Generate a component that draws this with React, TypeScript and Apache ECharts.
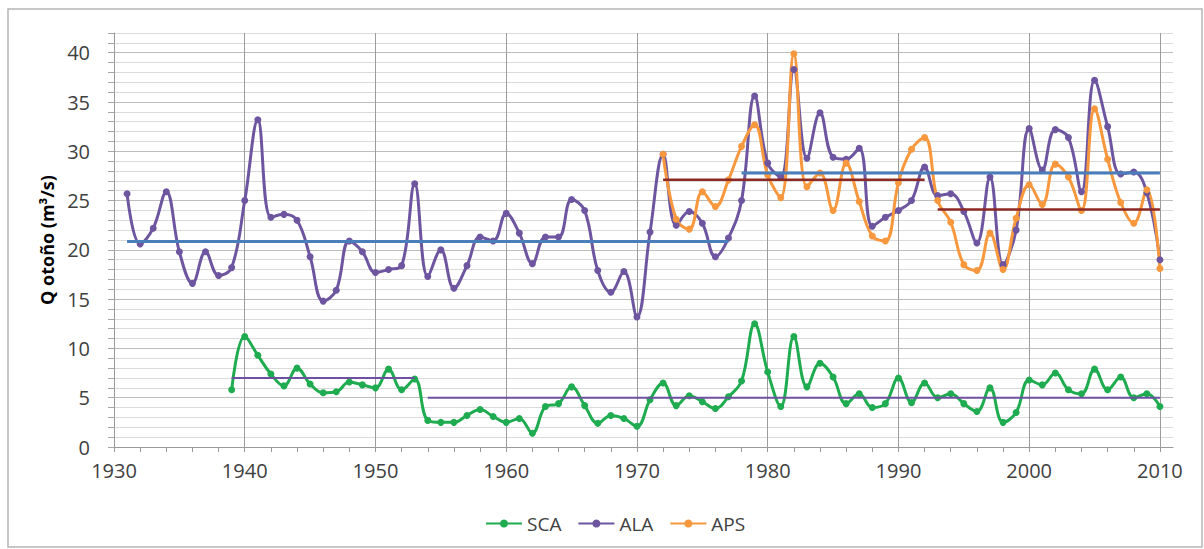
import React, { useEffect, useRef } from "react";
import * as echarts from "echarts";

// SCA: 1939–2010
const scaStart = 1939;
const scaValues = [
  5.8, 11.2, 9.3, 7.4, 6.2, 8.0, 6.4, 5.5, 5.6, 6.6, 6.3, 6.0, 7.9, 5.8, 6.9,
  2.7, 2.5, 2.5, 3.2, 3.8, 3.1, 2.5, 2.9, 1.4, 4.1, 4.4, 6.1, 4.2, 2.4, 3.2,
  2.9, 2.1, 4.8, 6.5, 4.2, 5.2, 4.6, 3.9, 5.1, 6.7, 12.5, 7.6, 4.1, 11.2, 6.1,
  8.5, 7.1, 4.4, 5.4, 4.0, 4.4, 7.0, 4.5, 6.5, 5.0, 5.4, 4.4, 3.6, 6.0, 2.5,
  3.5, 6.8, 6.3, 7.5, 5.8, 5.4, 7.9, 5.8, 7.1, 5.0, 5.4, 4.1,
];

// ALA: 1931–2010
const alaStart = 1931;
const alaValues = [
  25.7, 20.6, 22.2, 25.9, 19.8, 16.6, 19.8, 17.4, 18.2, 25.0, 33.2, 23.3, 23.6,
  23.0, 19.3, 14.8, 15.9, 20.9, 19.8, 17.7, 18.0, 18.4, 26.7, 17.3, 20.0, 16.1,
  18.4, 21.3, 20.9, 23.7, 21.7, 18.6, 21.3, 21.3, 25.1, 24.0, 17.9, 15.7, 17.8,
  13.2, 21.8, 29.7, 22.5, 23.9, 22.7, 19.3, 21.2, 25.0, 35.6, 28.8, 27.4, 38.3,
  29.3, 33.9, 29.4, 29.2, 30.3, 22.4, 23.3, 24.0, 25.0, 28.4, 25.5, 25.7, 23.9,
  20.7, 27.4, 18.5, 22.0, 32.3, 28.1, 32.2, 31.4, 25.9, 37.2, 32.5, 27.7, 27.9,
  25.8, 19.0,
];

// APS: 1972–2010
const apsStart = 1972;
const apsValues = [
  29.7, 23.1, 22.1, 25.9, 24.4, 27.1, 30.5, 32.7, 27.6, 25.3, 39.9, 26.4, 27.8,
  24.0, 28.8, 24.9, 21.4, 20.9, 26.8, 30.2, 31.4, 25.0, 22.8, 18.5, 17.9, 21.7,
  18.0, 23.2, 26.6, 24.6, 28.7, 27.4, 24.0, 34.3, 29.2, 24.8, 22.7, 26.1, 18.1,
];

// Period means: [startYear, endYear, value]
const alaMeans = [
  [1931, 1977, 20.85],
  [1978, 2010, 27.8],
];
const apsMeans = [
  [1972, 1992, 27.1],
  [1993, 2010, 24.1],
];
const scaMeans = [
  [1939, 1953, 7.0],
  [1954, 2010, 5.0],
];

const FONT = "'Open Sans', 'DejaVu Sans', sans-serif";
const C_SCA = "#1fab4f";
const C_ALA = "#6d559f";
const C_APS = "#f7983f";
const C_BLUE = "#4a7ebb";
const C_RED = "#8e2a25";
const C_SCAMEAN = "#6f4f9f";

const toPairs = (start: number, vals: number[]) => vals.map((v, i) => [start + i, v]);

export default function App() {
  const ref = useRef<HTMLDivElement>(null);
  useEffect(() => {
    if (!ref.current) return;
    const chart = echarts.init(ref.current, undefined, { renderer: "svg" });

    const dataSeries = (name: string, start: number, vals: number[], color: string) => ({
      name,
      type: "line",
      data: toPairs(start, vals),
      smooth: 0.4,
      symbol: "circle",
      symbolSize: 7,
      showSymbol: true,
      itemStyle: { color },
      lineStyle: { color, width: 3 },
      z: 3,
    });
    const meanSeries = (segs: number[][], color: string, width: number) =>
      segs.map((s) => ({
        name: "mean",
        type: "line",
        data: [
          [s[0], s[2]],
          [s[1], s[2]],
        ],
        symbol: "none",
        lineStyle: { color, width },
        silent: true,
        z: 4,
      }));

    chart.setOption({
      animation: false,
      backgroundColor: "#ffffff",
      textStyle: { fontFamily: FONT },
      grid: { left: 114, right: 31, top: 33, bottom: 102 },
      graphic: [
        {
          type: "rect",
          shape: { x: 8, y: 9, width: 1194, height: 538 },
          style: { fill: "none", stroke: "#b5b5b5", lineWidth: 1.5 },
          silent: true,
        },
      ],
      legend: {
        data: ["SCA", "ALA", "APS"],
        bottom: 11,
        left: 480,
        itemWidth: 36,
        itemHeight: 10,
        itemGap: 16,
        textStyle: { fontSize: 19, color: "#404040", fontFamily: FONT },
      },
      xAxis: {
        type: "value",
        min: 1930,
        max: 2011,
        interval: 2,
        axisLine: { show: true, lineStyle: { color: "#9a9a9a", width: 1 } },
        axisTick: { show: true, length: 5, lineStyle: { color: "#9a9a9a" } },
        axisLabel: {
          fontSize: 20,
          color: "#404040",
          margin: 13,
          formatter: (v: number) => (v % 10 === 0 ? String(v) : ""),
          showMaxLabel: false,
        },
        splitLine: {
          show: true,
          lineStyle: {
            color: ["#9c9c9c", "rgba(0,0,0,0)", "rgba(0,0,0,0)", "rgba(0,0,0,0)", "rgba(0,0,0,0)"],
            width: 1,
          },
        },
      },
      yAxis: {
        type: "value",
        min: 0,
        max: 42,
        interval: 1,
        name: "Q otoño (m³/s)",
        nameLocation: "middle",
        nameGap: 55,
        nameRotate: 90,
        nameTextStyle: { fontSize: 18, fontWeight: "bold", color: "#000000", fontFamily: FONT },
        axisLine: { show: true, lineStyle: { color: "#9a9a9a", width: 1 } },
        axisTick: { show: true, length: 6, lineStyle: { color: "#a5a5a5" } },
        axisLabel: {
          fontSize: 20,
          color: "#404040",
          margin: 24,
          formatter: (v: number) => (v % 5 === 0 ? String(v) : ""),
        },
        splitLine: {
          show: true,
          lineStyle: {
            color: ["#bdbdbd", "#dadada", "#dadada", "#dadada", "#dadada"],
            width: 1,
          },
        },
      },
      series: [
        dataSeries("SCA", scaStart, scaValues, C_SCA),
        dataSeries("ALA", alaStart, alaValues, C_ALA),
        dataSeries("APS", apsStart, apsValues, C_APS),
        ...meanSeries(alaMeans, C_BLUE, 3),
        ...meanSeries(apsMeans, C_RED, 2.5),
        ...meanSeries(scaMeans, C_SCAMEAN, 2),
      ],
    });
    return () => chart.dispose();
  }, []);
  return (
    <div
      ref={ref}
      style={{ position: "fixed", left: 0, top: 0, width: 1204, height: 549, background: "#fff" }}
    />
  );
}
